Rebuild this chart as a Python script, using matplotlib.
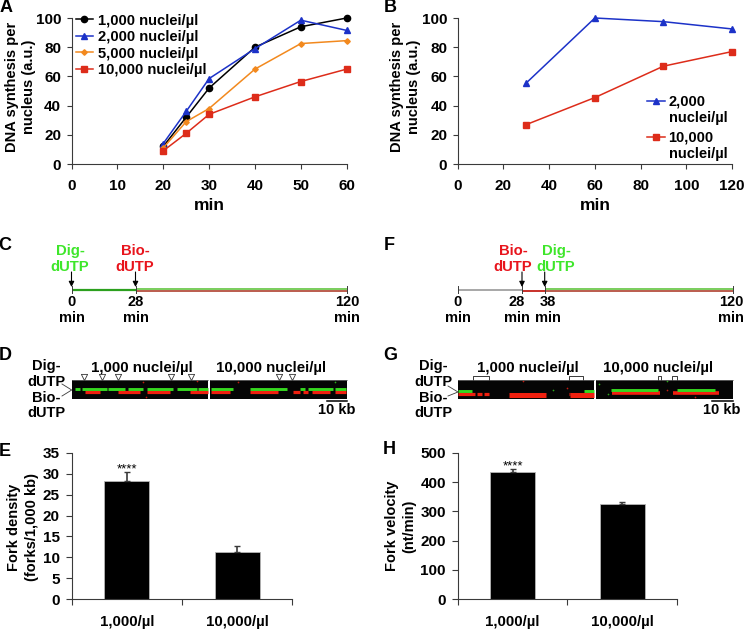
import matplotlib
matplotlib.use('Agg')
import matplotlib.pyplot as plt

plt.rcParams['font.family'] = ['Liberation Sans', 'DejaVu Sans']
plt.rcParams['font.weight'] = 'bold'
plt.rcParams['axes.linewidth'] = 0.8

W, H = 745, 629

# panel A
a_min = [20, 25, 30, 40, 50, 60]
a_1000 = [12, 32, 52, 80, 94, 100]
a_2000 = [14, 36, 58.5, 79, 98.5, 91.5]
a_5000 = [11, 29, 38, 65, 82.5, 84.5]
a_10000 = [9, 21, 34, 46, 56.5, 65]

# panel B
b_min = [30, 60, 90, 120]
b_2000 = [55.5, 100, 97.5, 92.5]
b_10000 = [27, 45.5, 67, 77]

# panels E, H
bar_labels = ['1,000/µl', '10,000/µl']
density = [28.2, 11.4]
density_err = [2.3, 1.3]
velocity = [433, 324]
velocity_err = [13, 9]

# gel bands, x in pixels of the picture
d_green = [(75, 80), (82, 107), (108, 125), (128, 143), (147, 173), (177, 197), (198, 208),
           (211, 233), (250, 287), (300, 305), (308, 333), (335, 346)]
d_red = [(85, 100), (118, 140), (147, 170), (190, 208), (211, 230), (250, 278), (293, 300),
         (303, 308), (312, 330), (335, 346)]
g_green_l = [(458, 472), (584, 594)]
g_red_l = [(458, 475), (477, 482), (484, 489), (569, 570)]
g_blob_l = [(509, 546), (570, 594)]
g_green_r = [(611, 658), (677, 715)]
g_red_r = [(612, 660), (673, 719)]

# stray dots on the gels
red_specks = [(143, 382), (197, 381), (238, 382), (146, 397), (523, 381), (567, 388), (667, 390), (695, 397)]
green_specks = [(335, 382), (553, 390), (599, 384), (608, 394), (667, 381)]

d_marks = [84, 102, 118, 171, 191, 279, 292]
g_brackets = [(473.3, 488.7), (569, 582.7), (657.7, 660.7), (671.7, 676.7)]

BLUE = '#1c32c8'
ORANGE = '#f2891e'
RED = '#dd2c1a'
BLACK = '#000000'
AXIS = '#3a3a3a'


def make_ax(left, right, top, bottom):
    ax = fig.add_axes([left / W, 1 - bottom / H, (right - left) / W, (bottom - top) / H])
    ax.spines['top'].set_visible(False)
    ax.spines['right'].set_visible(False)
    ax.spines['left'].set_color(AXIS)
    ax.spines['bottom'].set_color(AXIS)
    ax.tick_params(colors='black', color=AXIS, width=0.8, length=3.5, labelsize=11, pad=4)
    ax.tick_params(axis='x', pad=7.5)
    ax.patch.set_alpha(0)
    return ax


fig = plt.figure(figsize=(W / 100, H / 100), dpi=100)

# A
ax = make_ax(71.5, 346.7, 18, 164)
ax.plot(a_min, a_1000, color=BLACK, marker='o', ms=4.5, lw=1.1, label='1,000 nuclei/µl', clip_on=False)
ax.plot(a_min, a_2000, color=BLUE, marker='^', ms=4.5, lw=1.1, label='2,000 nuclei/µl', clip_on=False)
ax.plot(a_min, a_5000, color=ORANGE, marker='D', ms=2.8, lw=1.1, label='5,000 nuclei/µl', clip_on=False)
ax.plot(a_min, a_10000, color=RED, marker='s', ms=4.2, lw=1.1, label='10,000 nuclei/µl', clip_on=False)
ax.set_xlim(0, 60)
ax.set_ylim(0, 100)
ax.set_xticks(range(0, 61, 10))
ax.set_yticks(range(0, 101, 20))
ax.legend(loc='upper left', bbox_to_anchor=(0.016, 1.03), frameon=False,
          handlelength=1.15, handletextpad=0.35, labelspacing=0.17, borderaxespad=0, borderpad=0,
          prop={'size': 10.6, 'weight': 'bold'})

# B
ax = make_ax(457.7, 732, 18, 164)
ax.plot(b_min, b_2000, color=BLUE, marker='^', ms=4.5, lw=1.1, clip_on=False)
ax.plot(b_min, b_10000, color=RED, marker='s', ms=4.2, lw=1.1, clip_on=False)
ax.set_xlim(0, 120)
ax.set_ylim(0, 100)
ax.set_xticks(range(0, 121, 20))
ax.set_yticks(range(0, 101, 20))

# E
ax = make_ax(71.7, 292.3, 452.7, 599.3)
ax.bar([0, 1], density, width=0.41, color='black', edgecolor='#b5b5b5', lw=0.6,
       yerr=[[0, 0], density_err], ecolor=AXIS, capsize=2, error_kw={'lw': 1.2})
ax.set_xlim(-0.5, 1.5)
ax.set_ylim(0, 35)
ax.set_yticks(range(0, 36, 5))
ax.set_xticks([-0.5, 0.5, 1.5])
ax.set_xticklabels([])
ax.tick_params(axis='both', length=4.5)
e_ax = ax

# H
ax = make_ax(457.7, 677.3, 452.7, 599.3)
ax.bar([0, 1], velocity, width=0.41, color='black', edgecolor='#b5b5b5', lw=0.6,
       yerr=[[0, 0], velocity_err], ecolor=AXIS, capsize=2, error_kw={'lw': 1.2})
ax.set_xlim(-0.5, 1.5)
ax.set_ylim(0, 500)
ax.set_yticks(range(0, 501, 100))
ax.set_xticks([-0.5, 0.5, 1.5])
ax.set_xticklabels([])
ax.tick_params(axis='both', length=4.5)
h_ax = ax

for axx in (e_ax, h_ax):
    for i, lab in enumerate(bar_labels):
        axx.annotate(lab, xy=(i, 0), xycoords=('data', 'axes fraction'), xytext=(0, -16),
                     textcoords='offset points', ha='center', va='center', fontsize=10.8)
e_ax.annotate('****', xy=(0, density[0] + density_err[0]), xytext=(0, -3), textcoords='offset points',
              ha='center', va='bottom', fontsize=9.5, fontweight='normal')
h_ax.annotate('****', xy=(0, velocity[0] + velocity_err[0]), xytext=(0, -3), textcoords='offset points',
              ha='center', va='bottom', fontsize=9.5, fontweight='normal')

# everything else is placed in picture pixels
ov = fig.add_axes([0, 0, 1, 1])
ov.set_xlim(0, W)
ov.set_ylim(H, 0)
ov.axis('off')
ov.patch.set_alpha(0)


def txt(x, y, s, size=10.5, color='black', rot=0, ls=1.1):
    ov.text(x, y, s, fontsize=size, color=color, rotation=rot, ha='center', va='center',
            linespacing=ls, clip_on=False)


for x, y, s in [(6, 8, 'A'), (390, 7, 'B'), (5, 246, 'C'), (5, 355, 'D'), (5, 451, 'E'),
                (389, 246, 'F'), (390, 355, 'G'), (389, 449, 'H')]:
    txt(x, y, s, size=13)

txt(20.5, 87, 'DNA synthesis per\nnucleus (a.u.)', rot=90, ls=1.33)
txt(405.5, 87, 'DNA synthesis per\nnucleus (a.u.)', rot=90, ls=1.33)
txt(209, 206, 'min', size=12.5)
txt(595, 206, 'min', size=12.5)
txt(23, 527, 'Fork density\n(forks/1,000 kb)', rot=90, ls=1.28)
txt(401, 526, 'Fork velocity\n(nt/min)', rot=90, ls=1.28)

# legend of B
ov.plot([647, 665], [101, 101], color=BLUE, lw=1.1)
ov.plot([656], [101], color=BLUE, marker='^', ms=4.5)
ov.plot([647, 665], [137, 137], color=RED, lw=1.1)
ov.plot([656], [137], color=RED, marker='s', ms=4.2)
ov.text(668.5, 110, '2,000\nnuclei/µl', fontsize=10.5, ha='left', va='center', linespacing=1.25)
ov.text(668.5, 145.5, '10,000\nnuclei/µl', fontsize=10.5, ha='left', va='center', linespacing=1.25)

GREEN_T = '#3ee62a'
RED_T = '#e8141c'
LINE_L = '#55c030'
LINE_R = '#a8301c'


def arrow(x):
    ov.annotate('', xy=(x, 287), xytext=(x, 272),
                arrowprops=dict(arrowstyle='-|>', color='black', lw=0.8, mutation_scale=8, shrinkA=0, shrinkB=0))


def tick(x):
    ov.plot([x, x], [286, 293], color=AXIS, lw=0.7)


# C
ov.plot([71.5, 136], [290.2, 290.2], color='#2ca01e', lw=1.6, solid_capstyle='butt')
ov.plot([136, 346.7], [289.2, 289.2], color=LINE_L, lw=1.1, solid_capstyle='butt')
ov.plot([136, 346.7], [291.2, 291.2], color=LINE_R, lw=1.1, solid_capstyle='butt')
for x in (71.5, 136, 346.7):
    tick(x)
arrow(71.5)
arrow(135.5)
txt(70, 259, 'Dig-\ndUTP', size=10.7, color=GREEN_T, ls=1.15)
txt(135, 259, 'Bio-\ndUTP', size=10.7, color=RED_T, ls=1.15)
txt(71.5, 310, '0\nmin', ls=1.2)
txt(136, 310, '28\nmin', ls=1.2)
txt(347, 310, '120\nmin', ls=1.2)

# F
ov.plot([457.7, 522], [290.2, 290.2], color='#a0a0a0', lw=1.3, solid_capstyle='butt')
ov.plot([522, 544.7], [291, 291], color='#c8302a', lw=1.4, solid_capstyle='butt')
ov.plot([544.7, 733], [289.2, 289.2], color=LINE_L, lw=1.1, solid_capstyle='butt')
ov.plot([544.7, 733], [291.2, 291.2], color=LINE_R, lw=1.1, solid_capstyle='butt')
for x in (457.7, 522, 544.7, 733):
    tick(x)
arrow(522)
arrow(544.7)
txt(513, 259, 'Bio-\ndUTP', size=10.7, color=RED_T, ls=1.15)
txt(556, 259, 'Dig-\ndUTP', size=10.7, color=GREEN_T, ls=1.15)
txt(457.7, 310, '0\nmin', ls=1.2)
txt(517, 310, '28\nmin', ls=1.2)
txt(548, 310, '38\nmin', ls=1.2)
txt(731, 310, '120\nmin', ls=1.2)


def gel(x0, x1):
    ov.fill_between([x0, x1], 380, 399.3, color='#050505', lw=0)
    ov.plot([x0, x1], [380, 380], color='#777777', lw=0.5)


def bands(segs, y, color, lw=2.1):
    for a, b in segs:
        ov.plot([a, b], [y, y], color=color, lw=lw, solid_capstyle='butt')


# D
gel(71.7, 208.3)
gel(210.3, 346.7)
bands(d_red, 392, '#f0200f', lw=2.3)
bands(d_green, 388.7, '#36d820')
ov.scatter(d_marks, [377] * len(d_marks), marker='v', s=20, facecolor='white', edgecolor='#333333', linewidth=0.6, zorder=4)
txt(46, 374, 'Dig-\ndUTP', ls=1.1)
txt(46, 405.5, 'Bio-\ndUTP', ls=1.1)
ov.plot([62, 71.7, 62], [384, 390, 396], color=AXIS, lw=0.6)
txt(142, 368, '1,000 nuclei/µl', size=10.8)
txt(271, 368, '10,000 nuclei/µl', size=10.8)
ov.plot([326.7, 346.7], [401.3, 401.3], color='black', lw=1.1)
txt(337, 410, '10 kb')

# G
gel(457.7, 594)
gel(596, 733)
bands(g_red_l, 394, '#f0200f', lw=2.3)
bands(g_blob_l, 394.5, '#f0200f', lw=3.6)
bands(g_green_l, 391, '#36d820')
bands(g_red_r, 392.7, '#f0200f', lw=2.6)
bands(g_green_r, 389.7, '#36d820')
ov.scatter(*zip(*red_specks), s=1.5, color='#c01a10', lw=0)
ov.scatter(*zip(*green_specks), s=1.5, color='#2aa81a', lw=0)
for a, b in g_brackets:
    ov.plot([a, a, b, b], [380, 375.5, 375.5, 380], color=AXIS, lw=0.7)
txt(433, 374, 'Dig-\ndUTP', ls=1.1)
txt(433, 405.5, 'Bio-\ndUTP', ls=1.1)
ov.plot([448, 458, 448], [386, 392, 396], color=AXIS, lw=0.6)
txt(528, 368, '1,000 nuclei/µl', size=10.8)
txt(658, 368, '10,000 nuclei/µl', size=10.8)
ov.plot([712, 733], [401.3, 401.3], color='black', lw=1.1)
txt(722, 410, '10 kb')

fig.savefig('out.png', dpi=100)
